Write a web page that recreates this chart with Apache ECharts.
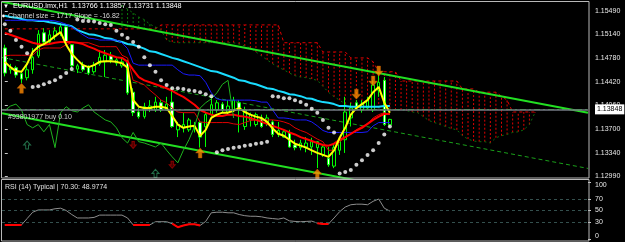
<!DOCTYPE html>
<html><head><meta charset="utf-8">
<script src="https://cdn.jsdelivr.net/npm/echarts@6/dist/echarts.min.js"></script>
<style>html,body{margin:0;padding:0;background:#000;overflow:hidden}#c{width:625px;height:242px}</style>
</head><body><div id="c"></div>
<script>
// ---------- DATA ----------
const barCount = 105;
const categories = Array.from({length: barCount}, (_, i) => String(i));
const priceTicks = [1.12990, 1.13340, 1.13700, 1.14060, 1.14420, 1.14780, 1.15140, 1.15490];
const rsiTicks = [0, 30, 50, 70, 100];
const rsiLevels = [70, 50, 30];
const rsiOversold = 30;
const bidPrice = 1.13848;
const orderPrice = 1.13813;
// [open, close, low, high]
const candles = [
[1.1493,1.1455,1.1450,1.1498],[1.1460,1.1463,1.1454,1.1469],[1.1463,1.1452,1.1448,1.1466],[1.1454,1.1446,1.1440,1.1457],
[1.1448,1.1460,1.1444,1.1466],[1.1460,1.1479,1.1454,1.1493],[1.1481,1.1514,1.1478,1.1520],[1.1516,1.1502,1.1498,1.1523],
[1.1502,1.1513,1.1499,1.1520],[1.1511,1.1519,1.1505,1.1525],[1.1516,1.1525,1.1511,1.1531],[1.1525,1.1502,1.1499,1.1529],
[1.1498,1.1466,1.1463,1.1499],[1.1461,1.1466,1.1455,1.1469],[1.1467,1.1460,1.1457,1.1472],[1.1464,1.1455,1.1452,1.1467],
[1.1457,1.1467,1.1454,1.1472],[1.1469,1.1479,1.1466,1.1490],[1.1472,1.1482,1.1449,1.1490],[1.1481,1.1475,1.1470,1.1487],
[1.1470,1.1475,1.1466,1.1479],[1.1466,1.1472,1.1463,1.1478],[1.1472,1.1425,1.1422,1.1475],[1.1426,1.1395,1.1390,1.1432],
[1.1396,1.1389,1.1386,1.1402],[1.1389,1.1404,1.1386,1.1410],[1.1401,1.1405,1.1396,1.1414],[1.1399,1.1411,1.1396,1.1419],
[1.1410,1.1399,1.1396,1.1414],[1.1399,1.1408,1.1398,1.1419],[1.1411,1.1374,1.1372,1.1434],[1.1369,1.1377,1.1358,1.1381],
[1.1372,1.1377,1.1365,1.1395],[1.1369,1.1384,1.1366,1.1387],[1.1372,1.1375,1.1365,1.1381],[1.1380,1.1358,1.1342,1.1384],
[1.1374,1.1392,1.1343,1.1395],[1.1392,1.1407,1.1389,1.1419],[1.1399,1.1410,1.1395,1.1414],[1.1408,1.1399,1.1395,1.1411],
[1.1396,1.1405,1.1392,1.1414],[1.1399,1.1414,1.1396,1.1419],[1.1410,1.1399,1.1365,1.1414],[1.1374,1.1399,1.1369,1.1404],
[1.1384,1.1392,1.1374,1.1395],[1.1377,1.1392,1.1374,1.1395],[1.1387,1.1374,1.1372,1.1392],[1.1380,1.1387,1.1375,1.1392],
[1.1381,1.1362,1.1358,1.1384],[1.1362,1.1368,1.1358,1.1381],[1.1358,1.1366,1.1357,1.1369],[1.1365,1.1343,1.1342,1.1369],
[1.1346,1.1342,1.1338,1.1354],[1.1342,1.1349,1.1338,1.1354],[1.1343,1.1349,1.1335,1.1358],[1.1343,1.1351,1.1331,1.1357],
[1.1342,1.1351,1.1311,1.1352],[1.1331,1.1343,1.1328,1.1346],[1.1326,1.1316,1.1313,1.1343],[1.1314,1.1342,1.1311,1.1349],
[1.1338,1.1354,1.1331,1.1358],[1.1354,1.1396,1.1334,1.1419],[1.1387,1.1402,1.1374,1.1410],[1.1410,1.1402,1.1399,1.1414],
[1.1399,1.1408,1.1395,1.1414],[1.1402,1.1414,1.1399,1.1419],[1.1399,1.1437,1.1396,1.1444],[1.1429,1.1441,1.1419,1.1452],
[1.1444,1.1377,1.1375,1.1449],[1.13766,1.13848,1.13731,1.13857]
];
const yellowLine = [1.1472,1.1464,1.1458,1.1457,1.1469,1.1487,1.1495,1.1499,1.1504,1.1511,
1.1517,1.1498,1.1484,1.1475,1.1467,1.1464,1.1467,1.1472,1.1473,1.1473,
1.1472,1.1470,1.1463,1.1414,1.1404,1.1402,1.1402,1.1404,1.1404,1.1402,
1.1390,1.1377,1.1372,1.1374,1.1375,1.1360,1.1369,1.1387,1.1392,1.1395,
1.1395,1.1398,1.1402,1.1396,1.1392,1.1389,1.1387,1.1381,1.1371,1.1363,
1.1360,1.1354,1.1348,1.1345,1.1342,1.1338,1.1334,1.1331,1.1328,1.1338,
1.1357,1.1372,1.1392,1.1402,1.1408,1.1414,1.1426,1.1434,1.1410,1.1395];
const redThick = [1.1516,1.1513,1.1510,1.1507,1.1504,1.1501,1.1499,1.1498,1.1499,1.1501,
1.1502,1.1502,1.1502,1.1501,1.1499,1.1495,1.1492,1.1488,1.1485,1.1482,
1.1479,1.1478,1.1472,1.1460,1.1449,1.1444,1.1441,1.1438,1.1435,1.1432,
1.1428,1.1423,1.1419,1.1413,1.1407,1.1399,1.1395,1.1392,1.1390,1.1390,
1.1392,1.1392,1.1390,1.1389,1.1387,1.1384,1.1381,1.1378,1.1375,1.1372,
1.1369,1.1365,1.1362,1.1358,1.1355,1.1352,1.1349,1.1346,1.1345,1.1348,
1.1354,1.1358,1.1363,1.1368,1.1372,1.1378,1.1384,1.1389,1.1393,1.1393];
const redThin = [1.1481,1.1482,1.1482,1.1482,1.1482,1.1482,1.1490,1.1493,1.1493,1.1493,
1.1493,1.1498,1.1501,1.1501,1.1501,1.1501,1.1498,1.1495,1.1495,1.1495,
1.1495,1.1482,1.1478,1.1444,1.1441,1.1437,1.1429,1.1422,1.1414,1.1410,
1.1402,1.1396,1.1395,1.1395,1.1395,1.1381,1.1380,1.1380,1.1380,1.1380,
1.1380,1.1378,1.1377,1.1380,1.1383,1.1384,1.1384,1.1384,1.1384,1.1383,
1.1381,1.1378,1.1372,1.1368,1.1365,1.1360,1.1355,1.1351,1.1338,1.1338,
1.1351,1.1357,1.1363,1.1369,1.1374,1.1378,1.1387,1.1392,1.1395,1.1392];
const blueLine = [1.1535,1.1535,1.1535,1.1535,1.1535,1.1535,1.1535,1.1535,1.1535,1.1534,
1.1532,1.1529,1.1525,1.1519,1.1513,1.1508,1.1507,1.1505,1.1505,1.1505,
1.1505,1.1501,1.1492,1.1470,1.1467,1.1467,1.1467,1.1467,1.1467,1.1467,
1.1467,1.1460,1.1454,1.1452,1.1452,1.1451,1.1441,1.1425,1.1416,1.1414,
1.1414,1.1414,1.1414,1.1414,1.1414,1.1413,1.1411,1.1411,1.1399,1.1387,
1.1387,1.1386,1.1384,1.1384,1.1384,1.1381,1.1375,1.1368,1.1365,1.1365,
1.1365,1.1365,1.1365,1.1365,1.1365,1.1366,1.1375,1.1380,1.1380,1.1380];
const cyanLine = [1.1542,1.1540,1.1539,1.1537,1.1535,1.1535,1.1534,1.1534,1.1532,1.1531,
1.1529,1.1528,1.1526,1.1520,1.1517,1.1514,1.1513,1.1511,1.1508,1.1507,
1.1504,1.1502,1.1499,1.1498,1.1495,1.1492,1.1488,1.1487,1.1484,1.1481,
1.1478,1.1476,1.1473,1.1470,1.1467,1.1464,1.1461,1.1458,1.1457,1.1454,
1.1451,1.1448,1.1444,1.1443,1.1440,1.1438,1.1435,1.1432,1.1431,1.1428,
1.1426,1.1423,1.1422,1.1420,1.1417,1.1416,1.1413,1.1411,1.1410,1.1408,
1.1405,1.1405,1.1404,1.1404,1.1404,1.1404,1.1404,1.1404,1.1405,1.1405];
const sarDots = [1.1529,1.1519,1.1505,1.1495,1.1485,1.1434,1.1435,1.1438,1.1441,1.1444,
1.1449,1.1455,1.1461,1.1536,1.1534,1.1534,1.1533,1.1531,1.1529,1.1528,
1.1519,1.1513,1.1508,1.1502,1.1495,1.1479,1.1467,1.1457,1.1444,1.1437,
1.1432,1.1432,1.1431,1.1429,1.1428,1.1426,1.1423,1.1420,1.1335,1.1338,
1.1340,1.1342,1.1343,1.1345,1.1346,1.1348,1.1349,1.1351,1.1420,1.1419,
1.1417,1.1417,1.1414,1.1411,1.1407,1.1401,1.1395,1.1384,1.1372,1.1365,
1.1303,1.1305,1.1308,1.1316,1.1323,1.1331,1.1338,1.1349,1.1362,1.1374];
const chikouLine = [1.1398,1.1405,1.1408,1.1399,1.1377,1.1372,1.1377,1.1366,1.1377,1.1342,
1.1395,1.1404,1.1398,1.1396,1.1402,1.1407,1.1396,1.1390,1.1384,1.1381,
1.1372,1.1357,1.1349,1.1365,1.1351,1.1349,1.1346,1.1343,1.1349,1.1338,
1.1328,1.1319,1.1338,1.1354,1.1374,1.1402,1.1410,1.1416,1.1425,1.1438,
1.1444,1.1387];
const spanB = [1.1522,1.1522,1.1522,1.1522,1.1522,1.1522,1.1522,1.1522,1.1522,1.1522,
1.1522,1.1522,1.1522,1.1522,1.1522,1.1522,1.1522,1.1522,1.1522,1.1522,
1.1522,1.1522,1.1522,1.1522,1.1522,1.1522,1.1522,1.1522,1.1528,1.1528,
1.1528,1.1528,1.1528,1.1528,1.1528,1.1528,1.1528,1.1528,1.1528,1.1528,
1.1528,1.1528,1.1528,1.1528,1.1528,1.1528,1.1528,1.1528,1.1528,1.1528,
1.1501,1.1501,1.1501,1.1501,1.1501,1.1501,1.1501,1.1487,1.1487,1.1487,
1.1487,1.1487,1.1478,1.1478,1.1478,1.1478,1.1472,1.1457,1.1457,1.1457,
1.1457,1.1443,1.1443,1.1443,1.1443,1.1443,1.1443,1.1443,1.1443,1.1443,
1.1443,1.1443,1.1431,1.1431,1.1431,1.1426,1.1426,1.1426,1.1426,1.1420,
1.1414,1.1396,1.1396,1.1396,1.1396,1.1396];
const spanA = [null,null,null,null,null,null,null,null,null,null,
null,null,null,null,null,null,null,null,null,null,
null,1.1558,1.1552,1.1546,1.1540,1.1536,1.1529,1.1525,1.1520,1.1505,
1.1502,1.1501,1.1501,1.1501,1.1501,1.1501,1.1501,1.1501,1.1501,1.1501,
1.1501,1.1501,1.1499,1.1496,1.1493,1.1487,1.1481,1.1475,1.1469,1.1464,
1.1460,1.1455,1.1451,1.1449,1.1448,1.1446,1.1444,1.1435,1.1426,1.1419,
1.1414,1.1408,1.1402,1.1399,1.1401,1.1404,1.1404,1.1402,1.1402,1.1401,
1.1399,1.1399,1.1398,1.1396,1.1395,1.1389,1.1383,1.1380,1.1377,1.1374,
1.1371,1.1369,1.1360,1.1355,1.1352,1.1351,1.1351,1.1349,1.1357,1.1360,
1.1362,1.1365,1.1366,1.1369,1.1377,1.1395];
const channelUpper = [[-0.5, 1.1563], [104.5, 1.1395]];
const channelMiddle = [[-0.5, 1.14785], [104.5, 1.13105]];
const channelLower = [[-0.5, 1.1394], [104.5, 1.1226]];
const orangeUpArrows = [[3, 1.1432], [35, 1.1334], [56, 1.1302]];
const orangeDownArrows = [[63, 1.1423], [66, 1.1443], [67, 1.1458]];
const hollowUpArrows = [[4, 1.1346], [27, 1.1303]];
const redDownArrows = [[23, 1.1346], [30, 1.1316]];
const rsiValues = [25,25,25,25,36,47,51,51,51,53,
54,50,43,37,37,37,38,42,42,42,
42,42,37,25,25,25,25,30.5,30.5,30.5,
27,21,24,26,26,24,31,46,47,47,
46,46,43,41,40,40,39,37,36,35,
37,32,31,30.5,31,31.5,28,26.5,26.5,37,
48,56,60,61,61,60,66,70,54,48.9774];

// ---------- CHART ----------
const FONT = '"Liberation Sans", Arial, sans-serif';
const chart = echarts.init(document.getElementById('c'), null, {renderer: 'canvas'});
const UP = 'path://M5,0L10,5L7,5L7,10L3,10L3,5L0,5Z';
const DOWN = 'path://M3,0L7,0L7,5L10,5L5,10L0,5L3,5Z';

const cloudData = [];
spanA.forEach((a, i) => { if (a != null) cloudData.push([i, a, spanB[i]]); });
const rsiLow = rsiValues.map(v => v < rsiOversold ? v : '-');

chart.setOption({
  animation: false,
  backgroundColor: '#000000',
  grid: [
    {left: 2, right: 37, top: 2, height: 176},
    {left: 2, right: 37, top: 181.75, height: 57.5}
  ],
  xAxis: [
    {type: 'category', gridIndex: 0, data: categories, boundaryGap: true, show: false},
    {type: 'value', gridIndex: 0, min: -0.5, max: 104.5, show: false},
    {type: 'category', gridIndex: 1, data: categories, boundaryGap: true, show: false}
  ],
  yAxis: [
    {type: 'value', gridIndex: 0, position: 'right', min: 1.12960, max: 1.15627,
      splitLine: {show: false}, axisLine: {show: false},
      axisTick: {show: true, customValues: priceTicks, length: 3, lineStyle: {color: '#c8c8c8'}},
      axisLabel: {customValues: priceTicks, formatter: v => v.toFixed(5), color: '#e8e8e8',
                  fontSize: 7, fontFamily: FONT, margin: 7}},
    {type: 'value', gridIndex: 1, position: 'right', min: 0, max: 100,
      splitLine: {show: false}, axisLine: {show: false},
      axisTick: {show: true, customValues: rsiTicks, length: 3, lineStyle: {color: '#c8c8c8'}},
      axisLabel: {customValues: rsiTicks, color: '#e8e8e8', fontSize: 7, fontFamily: FONT, margin: 7,
                  verticalAlignMaxLabel: 'top', verticalAlignMinLabel: 'bottom'}}
  ],
  graphic: [
    {type: 'rect', z: 100, silent: true, shape: {x: 1.5, y: 1.5, width: 587.5, height: 176.5},
      style: {fill: 'none', stroke: '#b8b8b8', lineWidth: 1}},
    {type: 'rect', z: 100, silent: true, shape: {x: 1.5, y: 179.5, width: 587.5, height: 61.5},
      style: {fill: 'none', stroke: '#b8b8b8', lineWidth: 1}},
    {type: 'text', z: 100, x: 3, y: 6, style: {text: '▼', fill: '#ffffff', font: '6px ' + FONT, textVerticalAlign: 'middle'}},
    {type: 'text', z: 100, x: 13, y: 6, style: {text: 'EURUSD.lmx,H1  1.13766 1.13857 1.13731 1.13848', fill: '#ffffff', font: '7.2px ' + FONT, textVerticalAlign: 'middle'}},
    {type: 'circle', z: 100, shape: {cx: 3.5, cy: 16, r: 1.4}, style: {fill: '#ffffff'}},
    {type: 'text', z: 100, x: 8, y: 16.5, style: {text: 'Channel size = 1717 Slope = -16.82', fill: '#d8d8d8', font: '7px ' + FONT, textVerticalAlign: 'middle'}},
    {type: 'text', z: 100, x: 8, y: 117, style: {text: '#93801977 buy 0.10', fill: '#cfcfcf', font: '7px ' + FONT, textVerticalAlign: 'middle'}},
    {type: 'text', z: 100, x: 5, y: 187.5, style: {text: 'RSI (14) Typical | 70.30: 48.9774', fill: '#e0e0e0', font: '7px ' + FONT, textVerticalAlign: 'middle'}}
  ],
  series: [
    { type: 'custom', name: 'cloud', xAxisIndex: 0, yAxisIndex: 0, z: 1, clip: true,
      encode: {x: 0, y: [1, 2]}, data: cloudData,
      renderItem: function (params, api) {
        const i = api.value(0), a = api.value(1), b = api.value(2);
        const pa = api.coord([i, a]), pb = api.coord([i, b]);
        return { type: 'line', shape: {x1: pa[0], y1: pa[1], x2: pb[0], y2: pb[1]},
          style: {stroke: b > a ? '#e00000' : '#0b7d0b', lineWidth: 1, lineDash: [2, 2]} };
      } },
    { type: 'line', name: 'spanB', data: spanB, symbol: 'none', z: 1,
      lineStyle: {color: '#e00000', width: 1, type: [3, 3]} },
    { type: 'line', name: 'spanA', data: spanA.map(v => v == null ? '-' : v), symbol: 'none', z: 1,
      lineStyle: {color: '#0b6e0b', width: 1, type: [2, 3]} },
    { type: 'line', name: 'chUpper', xAxisIndex: 1, data: channelUpper, symbol: 'none', z: 2,
      lineStyle: {color: '#22e022', width: 2} },
    { type: 'line', name: 'chMid', xAxisIndex: 1, data: channelMiddle, symbol: 'none', z: 2,
      lineStyle: {color: '#1aa01a', width: 1, type: [4, 3]} },
    { type: 'line', name: 'chLower', xAxisIndex: 1, data: channelLower, symbol: 'none', z: 2,
      lineStyle: {color: '#22e022', width: 2} },
    { type: 'candlestick', name: 'EURUSD', data: candles, barWidth: 3, z: 3,
      itemStyle: {color: '#000000', color0: '#ffffff', borderColor: '#00ff00', borderColor0: '#00ff00', borderWidth: 1},
      markLine: { symbol: 'none', silent: true, animation: false,
        data: [
          { yAxis: orderPrice, lineStyle: {color: '#00b400', width: 1, type: [6, 3, 2, 3]}, label: {show: false} },
          { yAxis: bidPrice, lineStyle: {color: '#747a84', width: 1.5, type: 'solid'},
            label: {show: true, position: 'end', formatter: '1.13848', backgroundColor: '#ffffff', color: '#000000',
                    fontSize: 7, fontFamily: FONT, padding: [2, 2, 1, 2], distance: 7} }
        ] } },
    { type: 'line', name: 'cyan', data: cyanLine, symbol: 'none', z: 4, lineStyle: {color: '#19dcff', width: 2} },
    { type: 'line', name: 'blue', data: blueLine, symbol: 'none', z: 4, lineStyle: {color: '#1a1aff', width: 1} },
    { type: 'line', name: 'redThin', data: redThin, symbol: 'none', z: 4, lineStyle: {color: '#e00000', width: 1} },
    { type: 'line', name: 'redThick', data: redThick, symbol: 'none', z: 4, lineStyle: {color: '#ff0000', width: 2} },
    { type: 'line', name: 'yellow', data: yellowLine, symbol: 'none', z: 4, lineStyle: {color: '#ffff00', width: 2} },
    { type: 'line', name: 'chikou', data: chikouLine, symbol: 'none', z: 4, lineStyle: {color: '#1eb41e', width: 1} },
    { type: 'scatter', name: 'sar', data: sarDots, symbol: 'circle', symbolSize: 4, z: 5,
      itemStyle: {color: '#ffffff'} },
    { type: 'scatter', name: 'upArrows', data: orangeUpArrows, symbol: UP, symbolSize: [9, 10], z: 5,
      itemStyle: {color: '#ff8c00', borderColor: '#c05a00', borderWidth: 0.5} },
    { type: 'scatter', name: 'downArrows', data: orangeDownArrows, symbol: DOWN, symbolSize: [9, 10], z: 5,
      itemStyle: {color: '#ff8c00', borderColor: '#c05a00', borderWidth: 0.5} },
    { type: 'scatter', name: 'hollowUp', data: hollowUpArrows, symbol: UP, symbolSize: [7, 8], z: 5,
      itemStyle: {color: 'rgba(0,0,0,0)', borderColor: '#2a8a5a', borderWidth: 1} },
    { type: 'scatter', name: 'redDown', data: redDownArrows, symbol: DOWN, symbolSize: [6, 7], z: 5,
      itemStyle: {color: '#5a0000', borderColor: '#a00000', borderWidth: 1} },
    { type: 'line', name: 'RSI', xAxisIndex: 2, yAxisIndex: 1, data: rsiValues, symbol: 'none', z: 4,
      lineStyle: {color: '#8e8e8e', width: 1},
      markLine: { symbol: 'none', silent: true, animation: false, label: {show: false},
        lineStyle: {color: '#34504e', width: 1, type: [3, 3]},
        data: rsiLevels.map(v => ({yAxis: v})) } },
    { type: 'line', name: 'RSI low', xAxisIndex: 2, yAxisIndex: 1, data: rsiLow, symbol: 'none', z: 5,
      lineStyle: {color: '#ff0000', width: 2} }
  ]
});
</script>
</body></html>
